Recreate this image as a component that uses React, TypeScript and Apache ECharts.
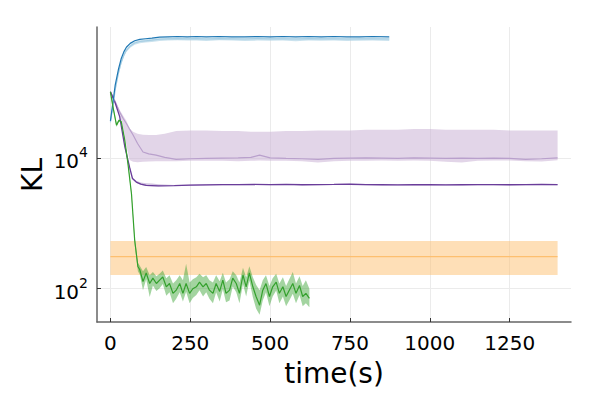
import React, { useEffect, useRef } from "react";
import * as echarts from "echarts";

// ---------- data ----------
const xTicks = [0, 250, 500, 750, 1000, 1250];
const yTicks = [100, 10000];

const blueX = [0, 8, 15, 25, 34, 42, 50, 62, 76, 92, 110, 130, 154, 180, 210, 240, 270, 300, 340, 380, 420, 460, 500, 540, 580, 620, 660, 700, 740, 780, 820, 873];
const blueMean = [3.67e4, 7.1e4, 1.29e5, 2.24e5, 3.31e5, 4.17e5, 4.9e5, 5.62e5, 6.17e5, 6.46e5, 6.61e5, 6.76e5, 7.0e5, 7.08e5, 7.16e5, 7.08e5, 7.16e5, 7.08e5, 7.16e5, 7.08e5, 7.08e5, 7.16e5, 7.08e5, 7.16e5, 7.08e5, 7.16e5, 7.08e5, 7.16e5, 7.08e5, 7.08e5, 7.16e5, 7.08e5];
const blueLight = [3.5e4, 6.2e4, 1.1e5, 1.95e5, 2.9e5, 3.7e5, 4.4e5, 5.1e5, 5.7e5, 6.0e5, 6.15e5, 6.3e5, 6.5e5, 6.6e5, 6.65e5, 6.6e5, 6.65e5, 6.55e5, 6.65e5, 6.6e5, 6.55e5, 6.65e5, 6.6e5, 6.6e5, 6.55e5, 6.65e5, 6.6e5, 6.6e5, 6.55e5, 6.6e5, 6.6e5, 6.55e5];
const blueLower = [3.3e4, 5.8e4, 1.03e5, 1.83e5, 2.72e5, 3.48e5, 4.14e5, 4.8e5, 5.36e5, 5.64e5, 5.78e5, 5.92e5, 6.1e5, 6.2e5, 6.25e5, 6.2e5, 6.2e5, 6.1e5, 6.25e5, 6.2e5, 6.1e5, 6.2e5, 6.15e5, 6.2e5, 6.05e5, 6.2e5, 6.15e5, 6.2e5, 6.1e5, 6.15e5, 6.2e5, 6.1e5];
const blueUpper = [3.7e4, 6.6e4, 1.17e5, 2.05e5, 3.05e5, 3.9e5, 4.6e5, 5.35e5, 5.98e5, 6.3e5, 6.45e5, 6.6e5, 6.8e5, 6.9e5, 6.95e5, 6.9e5, 6.95e5, 6.85e5, 6.95e5, 6.9e5, 6.85e5, 6.95e5, 6.9e5, 6.9e5, 6.85e5, 6.95e5, 6.9e5, 6.9e5, 6.85e5, 6.9e5, 6.9e5, 6.85e5];

const lpX = [0, 15, 29, 40, 50, 60, 71, 85, 102, 120, 143, 170, 206, 250, 300, 350, 400, 440, 467, 500, 550, 600, 650, 700, 750, 800, 850, 900, 950, 1000, 1050, 1100, 1150, 1200, 1250, 1300, 1350, 1400];
const lpMean = [1.02e5, 7.2e4, 5.0e4, 4.0e4, 3.35e4, 2.75e4, 2.24e4, 1.66e4, 1.23e4, 1.15e4, 1.1e4, 1.02e4, 9.5e3, 9.7e3, 9.8e3, 9.9e3, 1.0e4, 1.02e4, 1.1e4, 1.0e4, 9.8e3, 9.7e3, 9.5e3, 9.8e3, 9.9e3, 1.0e4, 9.9e3, 9.8e3, 1.0e4, 9.9e3, 9.8e3, 9.9e3, 9.8e3, 9.9e3, 9.8e3, 9.5e3, 9.7e3, 1.0e4];
const lpUpper = [1.05e5, 7.6e4, 5.4e4, 4.4e4, 3.7e4, 2.8e4, 2.5e4, 2.34e4, 2.26e4, 2.24e4, 2.24e4, 2.34e4, 2.57e4, 2.63e4, 2.63e4, 2.57e4, 2.57e4, 2.51e4, 2.51e4, 2.51e4, 2.57e4, 2.57e4, 2.63e4, 2.63e4, 2.63e4, 2.69e4, 2.69e4, 2.69e4, 2.75e4, 2.75e4, 2.69e4, 2.69e4, 2.69e4, 2.69e4, 2.63e4, 2.63e4, 2.63e4, 2.63e4];
const lpLower = [1.0e5, 6.9e4, 4.57e4, 2.82e4, 1.58e4, 9.3e3, 8.7e3, 8.6e3, 8.7e3, 8.8e3, 8.9e3, 8.9e3, 8.9e3, 9.0e3, 9.0e3, 9.0e3, 8.9e3, 9.0e3, 9.1e3, 9.0e3, 9.0e3, 8.9e3, 8.5e3, 8.9e3, 9.0e3, 9.0e3, 9.1e3, 9.0e3, 9.1e3, 9.0e3, 8.7e3, 8.5e3, 9.0e3, 9.1e3, 9.1e3, 8.9e3, 8.8e3, 9.2e3];

const dpX = [0, 15, 29, 45, 60, 69, 81, 95, 112, 130, 150, 200, 250, 300, 350, 400, 450, 500, 550, 600, 650, 700, 750, 800, 850, 900, 950, 1000, 1050, 1100, 1150, 1200, 1250, 1300, 1350, 1400];
const dpMean = [1.02e5, 6.9e4, 4.27e4, 1.48e4, 7.2e3, 4.84e3, 4.27e3, 3.98e3, 3.8e3, 3.76e3, 3.72e3, 3.76e3, 3.82e3, 3.86e3, 3.9e3, 3.9e3, 3.92e3, 3.9e3, 3.92e3, 3.88e3, 3.9e3, 3.92e3, 3.95e3, 3.9e3, 3.88e3, 3.86e3, 3.9e3, 3.88e3, 3.86e3, 3.88e3, 3.9e3, 3.9e3, 3.88e3, 3.9e3, 3.92e3, 3.9e3];
const dpUpper = [1.04e5, 7.1e4, 4.4e4, 1.53e4, 7.5e3, 5.0e3, 4.45e3, 4.2e3, 4.1e3, 4.05e3, 3.95e3, 3.85e3, 3.9e3, 3.94e3, 3.98e3, 3.98e3, 4.0e3, 3.98e3, 4.0e3, 3.96e3, 3.98e3, 4.0e3, 4.03e3, 3.98e3, 3.96e3, 3.94e3, 3.98e3, 3.96e3, 3.94e3, 3.96e3, 3.98e3, 3.98e3, 3.96e3, 3.98e3, 4.0e3, 3.98e3];
const dpLower = [1.0e5, 6.7e4, 4.15e4, 1.43e4, 6.9e3, 4.7e3, 4.15e3, 3.88e3, 3.7e3, 3.68e3, 3.65e3, 3.7e3, 3.75e3, 3.79e3, 3.83e3, 3.83e3, 3.85e3, 3.83e3, 3.85e3, 3.81e3, 3.83e3, 3.85e3, 3.87e3, 3.83e3, 3.81e3, 3.79e3, 3.83e3, 3.81e3, 3.79e3, 3.81e3, 3.83e3, 3.83e3, 3.81e3, 3.83e3, 3.85e3, 3.83e3];

const orX = [0, 1400];
const orMean = [309, 309];
const orUpper = [537, 537];
const orLower = [162, 162];

const grX = [0, 8, 19, 27, 34, 45, 55, 66, 76, 86, 92, 102, 112, 123, 133, 144, 154, 164, 175, 185, 196, 206, 217, 227, 237, 248, 258, 269, 279, 290, 300, 310, 321, 331, 342, 352, 362, 373, 383, 394, 404, 415, 425, 435, 446, 456, 467, 477, 487, 498, 508, 519, 529, 540, 550, 560, 571, 581, 592, 602, 612, 623];
const grMean = [1.02e5, 6.0e4, 3.16e4, 3.76e4, 3.55e4, 1.86e4, 8.1e3, 2.8e3, 550, 219, 195, 129, 174, 120, 145, 120, 135, 151, 107, 120, 85, 95, 120, 85, 120, 85, 100, 107, 126, 107, 120, 95, 85, 120, 91, 135, 85, 95, 145, 120, 85, 162, 107, 174, 107, 76, 56, 95, 120, 76, 107, 126, 85, 107, 76, 95, 120, 85, 112, 76, 85, 71];
const grUpper = [1.05e5, 6.3e4, 3.4e4, 3.9e4, 3.7e4, 1.95e4, 8.6e3, 3.0e3, 620, 250, 225, 185, 215, 160, 180, 155, 170, 190, 145, 160, 120, 135, 160, 135, 240, 125, 140, 150, 170, 150, 160, 135, 125, 160, 130, 175, 125, 140, 185, 160, 125, 210, 150, 220, 150, 115, 95, 135, 160, 110, 145, 170, 120, 150, 110, 140, 180, 120, 155, 110, 135, 100];
const grLower = [9.9e4, 5.7e4, 2.95e4, 3.6e4, 3.4e4, 1.75e4, 7.6e3, 2.6e3, 480, 185, 165, 95, 140, 75, 112, 92, 102, 118, 78, 88, 60, 70, 88, 64, 90, 60, 72, 80, 95, 76, 88, 70, 60, 88, 64, 98, 62, 66, 108, 88, 60, 118, 76, 132, 74, 50, 40, 66, 88, 54, 76, 94, 60, 76, 54, 66, 84, 60, 80, 54, 60, 52];

// ---------- helpers ----------
const FONT = "DejaVu Sans";

function lineSeries(xs: number[], ys: number[], color: string, width: number) {
  return {
    type: "line",
    data: xs.map((x, i) => [x, ys[i]]),
    symbol: "none",
    showSymbol: false,
    lineStyle: { color, width },
    itemStyle: { color },
    silent: true,
  };
}

// band drawn as one polygon through the axes' own coordinate system
function bandSeries(xs: number[], lo: number[], hi: number[], color: string) {
  return {
    type: "custom",
    silent: true,
    clip: true,
    data: xs.map((x, i) => [x, lo[i], hi[i]]),
    encode: { x: 0, y: [1, 2] },
    renderItem: (params: any, api: any) => {
      if (params.dataIndex !== 0) return null;
      const pts: number[][] = [];
      for (let i = 0; i < xs.length; i++) pts.push(api.coord([xs[i], hi[i]]));
      for (let i = xs.length - 1; i >= 0; i--) pts.push(api.coord([xs[i], lo[i]]));
      return {
        type: "polygon",
        shape: { points: pts },
        style: { fill: color, stroke: "none" },
      };
    },
  };
}

export default function App() {
  const ref = useRef<HTMLDivElement>(null);
  useEffect(() => {
    if (!ref.current) return;
    const chart = echarts.init(ref.current, null, { renderer: "svg" });
    const option: any = {
      animation: false,
      backgroundColor: "#ffffff",
      grid: { left: 97, top: 27, right: 29, bottom: 78 },
      xAxis: {
        type: "value",
        min: -42,
        max: 1442,
        axisLine: { show: true, onZero: false, lineStyle: { color: "#666666", width: 1.5 } },
        axisTick: { show: true, inside: true, length: 4, customValues: xTicks, lineStyle: { color: "#333333", width: 1 } },
        axisLabel: {
          customValues: xTicks,
          fontSize: 20,
          fontFamily: FONT,
          color: "#000000",
          margin: 11,
          formatter: (v: number) => String(v),
        },
        splitLine: { show: true, lineStyle: { color: "#ebebeb", width: 1 } },
      },
      yAxis: {
        type: "log",
        logBase: 10,
        min: 31,
        max: 1e6,
        axisLine: { show: true, onZero: false, lineStyle: { color: "#666666", width: 1.5 } },
        axisTick: { show: true, inside: true, length: 4, customValues: yTicks, lineStyle: { color: "#333333", width: 1 } },
        axisLabel: {
          customValues: yTicks,
          margin: 9,
          formatter: (v: number) => "{b|10}{s|" + Math.round(Math.log10(v)) + "}",
          rich: {
            b: { fontSize: 20, fontFamily: FONT, color: "#000000", lineHeight: 26, verticalAlign: "bottom" },
            s: { fontSize: 14, fontFamily: FONT, color: "#000000", lineHeight: 26, verticalAlign: "top" },
          },
        },
        splitLine: { show: true, lineStyle: { color: "#ebebeb", width: 1 } },
      },
      graphic: [
        {
          type: "text",
          x: 32,
          y: 175,
          rotation: Math.PI / 2,
          style: { text: "KL", fontSize: 28, fontFamily: FONT, fill: "#000000", align: "center", verticalAlign: "middle" },
        },
        {
          type: "text",
          x: 334,
          y: 373,
          style: { text: "time(s)", fontSize: 28, fontFamily: FONT, fill: "#000000", align: "center", verticalAlign: "middle" },
        },
      ],
      series: [
        bandSeries(orX, orLower, orUpper, "rgba(253,191,111,0.5)"),
        lineSeries(orX, orMean, "#fdbf6f", 1.2),
        bandSeries(lpX, lpLower, lpUpper, "rgba(202,178,214,0.55)"),
        lineSeries(lpX, lpMean, "#b9a0cc", 1.2),
        bandSeries(dpX, dpLower, dpUpper, "rgba(106,61,154,0.3)"),
        lineSeries(dpX, dpMean, "#6a3d9a", 1.3),
        bandSeries(blueX, blueLower, blueUpper, "rgba(166,206,227,0.6)"),
        lineSeries(blueX, blueLight, "#a6cee3", 1.2),
        lineSeries(blueX, blueMean, "#1f78b4", 1.2),
        bandSeries(grX, grLower, grUpper, "rgba(51,160,44,0.45)"),
        lineSeries(grX, grMean, "#33a02c", 1.2),
      ],
    };
    chart.setOption(option);
    return () => chart.dispose();
  }, []);
  return <div ref={ref} style={{ position: "fixed", left: 0, top: 0, width: 600, height: 400 }} />;
}
